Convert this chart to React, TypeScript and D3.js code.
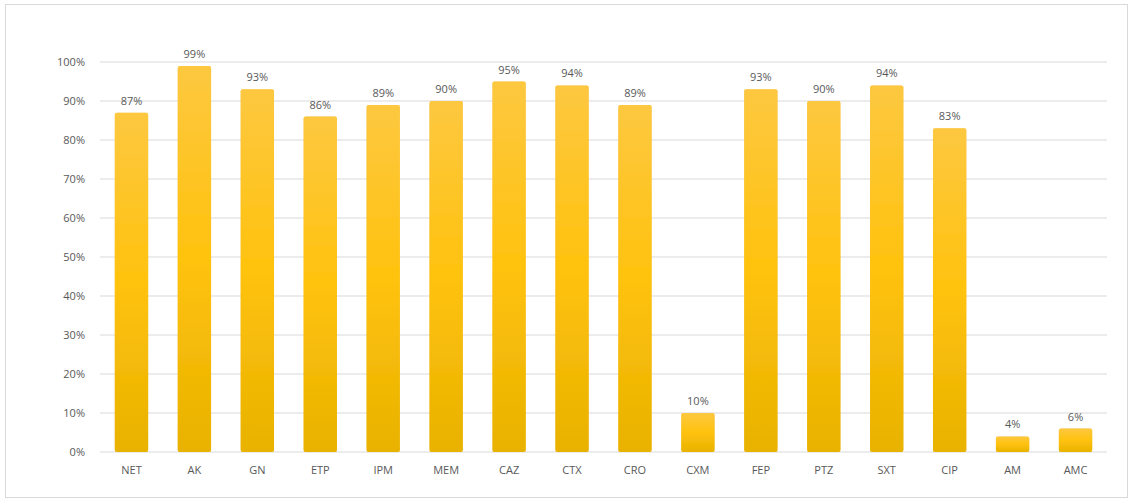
import React from "react";
import * as d3 from "d3";

const categories = ["NET","AK","GN","ETP","IPM","MEM","CAZ","CTX","CRO","CXM","FEP","PTZ","SXT","CIP","AM","AMC"];
const values = [87,99,93,86,89,90,95,94,89,10,93,90,94,83,4,6];
const yTicks = [0,10,20,30,40,50,60,70,80,90,100];

const W = 1134, H = 500;
const left = 100, right = 1107, top = 62, bottom = 452;

export default function App() {
  const x = d3.scaleBand<string>().domain(categories).range([left, right]).paddingInner(0.47).paddingOuter(0.235);
  const y = d3.scaleLinear().domain([0, 100]).range([bottom, top]);
  const font = "'Open Sans', 'Noto Sans', sans-serif";
  return (
    <svg width={W} height={H} style={{ position: "absolute", left: 0, top: 0, background: "#fff" }}>
      <defs>
        <linearGradient id="bg" x1="0" y1="0" x2="0" y2="1">
          <stop offset="0%" stopColor="#FDC840" />
          <stop offset="50%" stopColor="#FFC20E" />
          <stop offset="100%" stopColor="#E8B200" />
        </linearGradient>
        <filter id="glow" x="-20%" y="-20%" width="140%" height="140%">
          <feGaussianBlur in="SourceAlpha" stdDeviation="1.2" />
          <feFlood floodColor="#E8A000" floodOpacity="0.45" />
          <feComposite operator="in" in2="SourceAlpha" />
          <feMerge>
            <feMergeNode />
            <feMergeNode in="SourceGraphic" />
          </feMerge>
        </filter>
      </defs>
      <rect x={5.5} y={4.5} width={1122} height={493} fill="#fff" stroke="#d9d9d9" strokeWidth={1} />
      {yTicks.map((t) => (
        <g key={t}>
          <line x1={left} x2={right} y1={y(t)} y2={y(t)} stroke="#d9d9d9" strokeWidth={1} />
          <text x={85} y={y(t)} dy="0.35em" textAnchor="end" fontSize={11} fill="#595959" fontFamily={font}>{t}%</text>
        </g>
      ))}
      {categories.map((c, i) => (
        <g key={c}>
          <rect x={x(c)} y={y(values[i])} width={x.bandwidth()} height={bottom - y(values[i])} fill="url(#bg)" rx={2} filter="url(#glow)" />
          <text x={(x(c) as number) + x.bandwidth() / 2} y={y(values[i]) - 8} textAnchor="middle" fontSize={11} fill="#595959" fontFamily={font}>{values[i]}%</text>
          <text x={(x(c) as number) + x.bandwidth() / 2} y={470} dy="0.35em" textAnchor="middle" fontSize={11} fill="#595959" fontFamily={font}>{c}</text>
        </g>
      ))}
    </svg>
  );
}
